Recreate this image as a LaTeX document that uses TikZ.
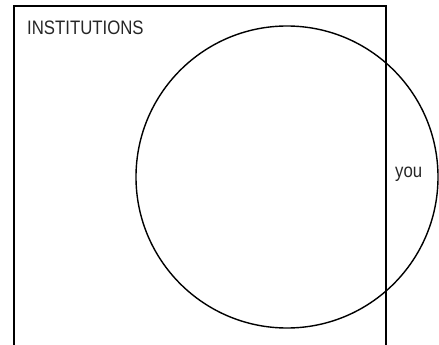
\documentclass[tikz,border=0pt]{standalone}
\usepackage{fontspec}
\setmainfont{Liberation Sans}[FakeStretch=0.86]
\usepackage{tikz}
\usetikzlibrary{positioning}

\begin{document}
\begin{tikzpicture}[
  x=1pt, y=-1pt,
  font=\fontsize{19.5}{22}\selectfont,
  frame/.style={draw=black, line width=1.4pt},
  ring/.style={frame, circle, minimum size=302pt, inner sep=0pt},
  lbl/.style={inner sep=0pt, anchor=base west, text=black!85},
]
\useasboundingbox (0,0) rectangle (439,345);
\coordinate (bl) at (14,345);
\coordinate (tl) at (14,6);
\coordinate (tr) at (386,6);
\coordinate (br) at (386,345);
\draw[frame] (bl) -- (tl) -- (tr) -- (br);
\node[ring] (you circle) at (287,177) {};
\node[lbl] (inst) at (27,35) {INSTITUTIONS};
\node[lbl] (you) at (395,177) {you};
\end{tikzpicture}
\end{document}
